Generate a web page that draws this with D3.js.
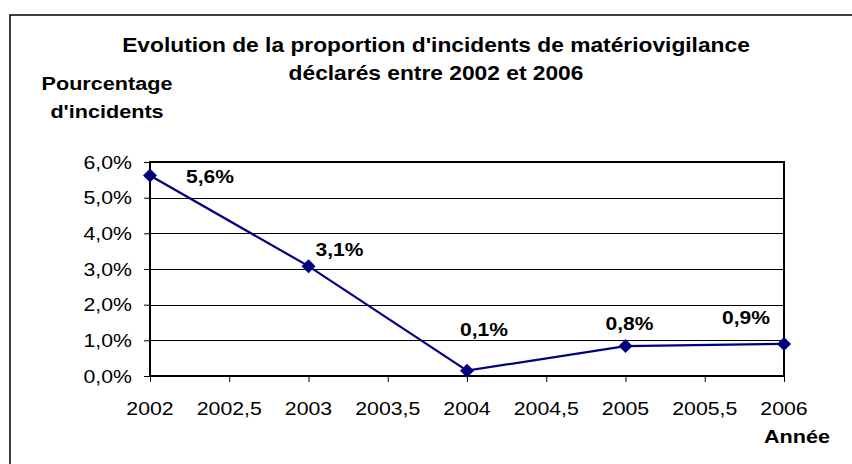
<!DOCTYPE html>
<html lang="fr">
<head>
    <meta charset="UTF-8">
    <title>Evolution de la proportion d'incidents de matériovigilance</title>
    <script src="https://d3js.org/d3.v7.min.js"></script>
    <style>
        html, body {
            margin: 0;
            padding: 0;
            background: #fff;
        }
        svg text {
            font-family: "Liberation Sans", Arial, sans-serif;
            fill: #000;
        }
    </style>
</head>
<body>
    <svg width="852" height="464"></svg>
    <script>
        // données
        const years = [2002, 2003, 2004, 2005, 2006];
        const values = [5.62, 3.08, 0.15, 0.84, 0.9];
        const pointLabels = ["5,6%", "3,1%", "0,1%", "0,8%", "0,9%"];
        const yTicks = [0, 1, 2, 3, 4, 5, 6];
        const xTicks = [2002, 2002.5, 2003, 2003.5, 2004, 2004.5, 2005, 2005.5, 2006];
        const titleLines = ["Evolution de la proportion d'incidents de matériovigilance", "déclarés entre 2002 et 2006"];
        const yTitle = ["Pourcentage", "d'incidents"];
        const xTitle = "Année";

        // décalage des étiquettes (déplacées à la main dans l'original)
        const labelOffsets = [[60, 7], [31, -10], [17, -35], [4, -16], [-38, -20]];

        const svg = d3.select("svg");
        const stretch = 1.15; // le texte de l'image est un peu étiré en largeur

        const x = d3.scaleLinear().domain([2002, 2006]).range([150, 784]);
        const y = d3.scaleLinear().domain([0, 6]).range([376, 162]);
        const fmt = v => String(v).replace(".", ",");

        function addText(px, py, str, size, bold, anchor) {
            return svg.append("text")
                .attr("transform", `translate(${px},${py}) scale(${stretch},1)`)
                .attr("text-anchor", anchor || "middle")
                .style("font-size", size + "px")
                .style("font-weight", bold ? "bold" : "normal")
                .text(str);
        }

        // cadre extérieur
        svg.append("rect")
            .attr("x", 10).attr("y", 15)
            .attr("width", 900).attr("height", 500)
            .attr("fill", "none").attr("stroke", "#000").attr("stroke-width", 1.5);

        // quadrillage
        svg.append("g")
            .selectAll("line")
            .data(yTicks.slice(1, -1))
            .enter().append("line")
            .attr("x1", x(2002)).attr("x2", x(2006))
            .attr("y1", d => Math.round(y(d)) + 0.5)
            .attr("y2", d => Math.round(y(d)) + 0.5)
            .attr("stroke", "#000").attr("stroke-width", 1);

        // axes (graduations seulement)
        const yAxis = svg.append("g")
            .attr("transform", `translate(${x(2002)},0)`)
            .call(d3.axisLeft(y).tickValues(yTicks).tickSize(6).tickFormat(""));
        const xAxis = svg.append("g")
            .attr("transform", `translate(0,${y(0)})`)
            .call(d3.axisBottom(x).tickValues(xTicks).tickSize(6).tickFormat(""));
        [yAxis, xAxis].forEach(a => {
            a.select(".domain").remove();
            a.selectAll(".tick line").attr("stroke", "#000").attr("stroke-width", 1);
        });

        // zone de tracé
        svg.append("rect")
            .attr("x", x(2002)).attr("y", y(6))
            .attr("width", x(2006) - x(2002)).attr("height", y(0) - y(6))
            .attr("fill", "none").attr("stroke", "#000").attr("stroke-width", 2);

        // étiquettes des axes
        yTicks.forEach(t => addText(x(2002) - 18, y(t) + 6.6, fmt(t.toFixed(1)) + "%", 18.5, false, "end"));
        xTicks.forEach(t => addText(x(t), 415, fmt(t), 18.5, false));

        // titres
        addText(436, 52, titleLines[0], 19.8, true);
        addText(436, 80, titleLines[1], 19.8, true);
        addText(107, 90, yTitle[0], 18.8, true);
        addText(107, 118, yTitle[1], 18.8, true);
        addText(797, 443, xTitle, 18.8, true);

        // série
        const line = d3.line().x((d, i) => x(years[i])).y(d => y(d));
        svg.append("path")
            .datum(values)
            .attr("d", line)
            .attr("fill", "none")
            .attr("stroke", "#000080")
            .attr("stroke-width", 2.2);

        svg.append("g")
            .selectAll("path")
            .data(values)
            .enter().append("path")
            .attr("transform", (d, i) => `translate(${x(years[i])},${y(d)}) rotate(45)`)
            .attr("d", d3.symbol().type(d3.symbolSquare).size(98))
            .attr("fill", "#000080");

        values.forEach((v, i) => {
            addText(x(years[i]) + labelOffsets[i][0], y(v) + labelOffsets[i][1], pointLabels[i], 18.3, true);
        });
    </script>
</body>
</html>
